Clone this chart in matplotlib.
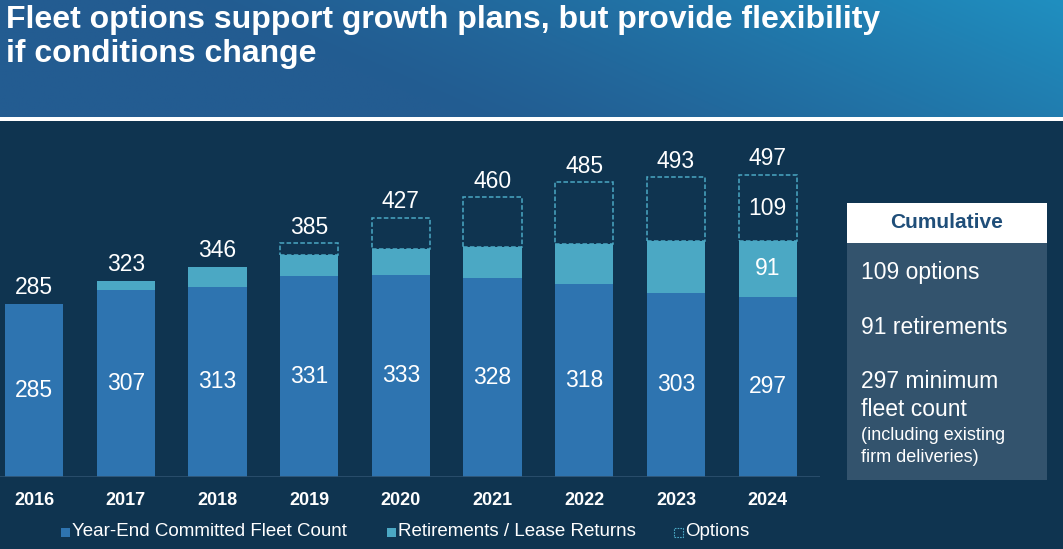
import numpy as np
import matplotlib.pyplot as plt
from matplotlib.patches import Rectangle

years = ['2016', '2017', '2018', '2019', '2020', '2021', '2022', '2023', '2024']
committed = [285, 307, 313, 331, 333, 328, 318, 303, 297]
retirements = [0, 16, 33, 34, 42, 51, 66, 85, 91]
options = [0, 0, 0, 20, 52, 81, 101, 105, 109]
totals = [285, 323, 346, 385, 427, 460, 485, 493, 497]

NAVY = '#0F3450'
C_COMMIT = '#2E74B0'
C_RET = '#4BA8C4'

plt.rcParams['font.family'] = ['Liberation Sans', 'DejaVu Sans']

W, H = 1063, 549
fig = plt.figure(figsize=(W / 100, H / 100), dpi=100, facecolor=NAVY)


def fx(px):
    return px / W


def fy(py):
    return 1 - py / H


# header band with gradient
hax = fig.add_axes([0, fy(117), 1, 117 / H])
hax.axis('off')
gx, gy = np.meshgrid(np.linspace(0, 1, 300), np.linspace(0, 1, 60))
t = np.clip(0.8 * gx + 0.2 * (1 - gy), 0, 1)
c0 = np.array([0x23, 0x5C, 0x91]) / 255
c1 = np.array([0x1F, 0x8F, 0xC0]) / 255
t = np.clip((t - 0.35) / 0.65, 0, 1) ** 1.2
img = c0[None, None, :] * (1 - t[..., None]) + c1[None, None, :] * t[..., None]
hax.imshow(img, aspect='auto', extent=[0, 1, 0, 1], origin='upper')
fig.add_artist(Rectangle((0, fy(121)), 1, 4 / H, transform=fig.transFigure,
                         facecolor='white', edgecolor='none'))

fig.text(fx(6), fy(20), 'Fleet options support growth plans, but provide flexibility',
         color='white', fontsize=23, fontweight='bold', va='center', ha='left')
fig.text(fx(6), fy(54), 'if conditions change',
         color='white', fontsize=23, fontweight='bold', va='center', ha='left')

# main chart
ax = fig.add_axes([0, fy(477), 820 / W, (477 - 130) / H])
ax.set_facecolor('none')
x = np.arange(len(years))
bw = 0.635
ax.bar(x, committed, bw, color=C_COMMIT, edgecolor='none')
ax.bar(x, retirements, bw, bottom=committed, color=C_RET, edgecolor='none')
base = np.array(committed) + np.array(retirements)
opt = np.array(options)
has = opt > 0
ax.bar(x[has], opt[has], bw, bottom=base[has], facecolor='none', edgecolor=C_RET,
       linestyle=(0, (3, 1.5)), linewidth=1.1)

FS = 16.5
for i in range(len(years)):
    ax.text(x[i], committed[i] / 2, str(committed[i]), color='white',
            fontsize=FS, ha='center', va='center')
    ax.annotate(str(totals[i]), (x[i], totals[i]), xytext=(0, 11.5),
                textcoords='offset points', color='white', fontsize=FS,
                ha='center', va='center')
ax.text(x[-1], committed[-1] + retirements[-1] / 2, str(retirements[-1]),
        color='white', fontsize=FS, ha='center', va='center')
ax.text(x[-1], base[-1] + options[-1] / 2, str(options[-1]),
        color='white', fontsize=FS, ha='center', va='center')

ax.set_xlim(-0.371, 8.57)
ax.set_ylim(0, 571)
ax.axhline(0, color='#2E5270', linewidth=1.2)
for s in ax.spines.values():
    s.set_visible(False)
ax.set_yticks([])
ax.set_xticks(x)
ax.set_xticklabels(years, color='white', fontsize=13, fontweight='bold')
ax.tick_params(axis='x', length=0, pad=11)

# legend
leg = [(61, C_COMMIT, 'Year-End Committed Fleet Count', False),
       (387, C_RET, 'Retirements / Lease Returns', False),
       (674, None, 'Options', True)]
for px, col, lab, dashed in leg:
    if dashed:
        r = Rectangle((fx(px), fy(537)), 9 / W, 9 / H, transform=fig.transFigure,
                      facecolor='none', edgecolor=C_RET, linewidth=0.8,
                      linestyle=(0, (1.5, 1)))
    else:
        r = Rectangle((fx(px), fy(537)), 9 / W, 9 / H, transform=fig.transFigure,
                      facecolor=col, edgecolor='none')
    fig.add_artist(r)
    fig.text(fx(px + 11), fy(532), lab, color='white', fontsize=13.5,
             ha='left', va='center')

# side box
fig.add_artist(Rectangle((fx(847), fy(480)), 200 / W, (480 - 243) / H,
                         transform=fig.transFigure, facecolor='#33536D', edgecolor='none'))
fig.add_artist(Rectangle((fx(847), fy(243)), 200 / W, 40 / H,
                         transform=fig.transFigure, facecolor='white', edgecolor='none'))
fig.text(fx(947), fy(223), 'Cumulative', color='#1F4E79', fontsize=15,
         fontweight='bold', ha='center', va='center')
side = [(273, '109 options', 16.5), (328, '91 retirements', 16.5),
        (382, '297 minimum', 16.5), (410, 'fleet count', 16.5),
        (436, '(including existing', 13), (458, 'firm deliveries)', 13)]
for py, txt, fs in side:
    fig.text(fx(861), fy(py), txt, color='white', fontsize=fs, ha='left', va='center')

fig.savefig('out.png', dpi=100, facecolor=NAVY)
